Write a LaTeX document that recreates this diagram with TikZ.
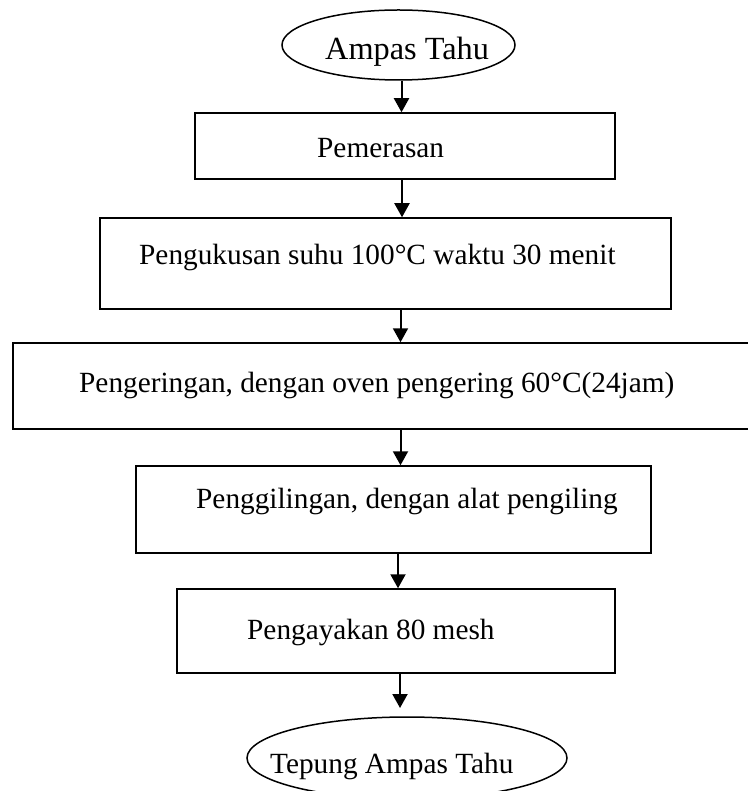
\documentclass[tikz,border=0pt]{standalone}
\usepackage{fontspec}
\setmainfont{Liberation Serif}
\usetikzlibrary{shapes.geometric,arrows.meta}
\begin{document}
\begin{tikzpicture}[x=1pt,y=-1pt,
  box/.style={draw,line width=1.5pt,rectangle,inner sep=0pt},
  oval/.style={draw,line width=1.5pt,ellipse,inner sep=0pt},
  lbl/.style={anchor=base west,inner sep=0pt,font=\fontsize{29.3}{34}\selectfont},
  arr/.style={line width=2pt,-{Triangle[width=15pt,length=14pt]}}]
\useasboundingbox (0,0) rectangle (747,791);
% shapes
\node[oval,minimum width=233pt,minimum height=70pt] (e1) at (398.5,45) {};
\node[box,minimum width=420pt,minimum height=66pt] (b1) at (405,146) {};
\node[box,minimum width=571pt,minimum height=91pt] (b2) at (385.5,263.5) {};
\node[box,minimum width=739pt,minimum height=86pt] (b3) at (382.5,386) {};
\node[box,minimum width=515pt,minimum height=87pt] (b4) at (393.5,509.5) {};
\node[box,minimum width=438pt,minimum height=84pt] (b5) at (396,631) {};
\node[oval,minimum width=320pt,minimum height=82pt] (e2) at (407,758) {};
% texts
\node[lbl,font=\fontsize{32.3}{37}\selectfont] (t0) at (325,60) {Ampas Tahu};
\node[lbl] (t1) at (317,158) {Pemerasan};
\node[lbl] (t2) at (139,265) {Pengukusan suhu 100°C waktu 30 menit};
\node[lbl] (t3) at (79,392) {Pengeringan, dengan oven pengering 60°C(24jam)};
\node[lbl] (t4) at (196,508) {Penggilingan, dengan alat pengiling};
\node[lbl] (t5) at (247,639) {Pengayakan 80 mesh};
\node[lbl] (t6) at (270,773) {Tepung Ampas Tahu};
% arrow columns
\coordinate (c1) at (401.5,0);
\coordinate (c2) at (402,0);
\coordinate (c3) at (400.5,0);
\coordinate (c4) at (400.5,0);
\coordinate (c5) at (398,0);
\coordinate (c6) at (400,0);
\coordinate (end6) at (400,708);
% connectors
\draw[arr] (e1.south -| c1) -- (b1.north -| c1);
\draw[arr] (b1.south -| c2) -- (b2.north -| c2);
\draw[arr] (b2.south -| c3) -- (b3.north -| c3);
\draw[arr] (b3.south -| c4) -- (b4.north -| c4);
\draw[arr] (b4.south -| c5) -- (b5.north -| c5);
\draw[arr] (b5.south -| c6) -- (end6);
\end{tikzpicture}
\end{document}
